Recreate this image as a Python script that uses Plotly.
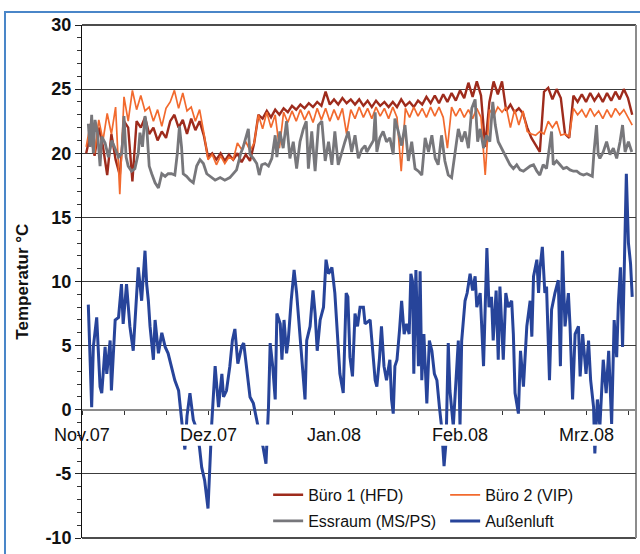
import plotly.graph_objects as go

# ---------------- data ----------------
# x = days since 1 Nov 2007
MONTH_LABELS = ["Nov.07", "Dez.07", "Jan.08", "Feb.08", "Mrz.08"]
MONTH_DAYS = [0, 30, 60, 90, 120]
Y_TICKS = [-10, -5, 0, 5, 10, 15, 20, 25, 30]
Y_TICK_LABELS = ["-10", "-5", "0", "5", "10", "15", "20", "25", "30"]

buero_days = list(range(1, 132))
buero1 = [20.0, 21.5, 19.8, 22.0, 20.5, 18.3, 21.5, 19.5, 18.3, 22.5,
          22.0, 17.8, 22.5, 22.0, 22.8, 21.5, 22.0, 21.0, 21.7, 21.2,
          22.5, 23.0, 22.0, 22.6, 21.5, 22.7, 21.8, 22.5, 21.4, 19.7,
          20.0, 19.5, 20.0, 19.4, 19.9, 19.5, 20.0, 19.3, 19.9, 19.4,
          20.8, 23.0, 22.7, 23.3, 22.8, 23.4, 23.0, 23.5, 23.2, 23.7,
          23.4, 23.8, 23.5, 23.9, 23.6, 24.0, 23.7, 24.8, 23.8, 24.2,
          23.8, 24.3, 23.9, 24.2, 23.8, 24.2, 23.7, 24.1, 23.6, 24.1,
          23.7, 24.0, 23.6, 24.0, 23.6, 24.2, 23.7, 24.0, 23.6, 24.1,
          23.8, 24.4, 23.9, 24.5, 23.9, 24.6, 24.0, 24.7, 24.1, 24.9,
          24.3, 25.5, 24.4, 25.6, 24.5, 20.5, 24.0, 25.6, 24.6, 25.6,
          23.3, 23.8, 23.2, 23.5, 23.1, 22.0, 21.2, 20.6, 20.1, 24.8,
          25.1, 24.2, 25.0, 24.3, 21.5, 21.2, 24.5, 24.0, 24.6, 24.0,
          24.7, 24.1, 24.6, 24.0, 24.7, 24.1, 24.8, 24.2, 25.0, 24.3,
          23.0]
buero2 = [20.5, 22.3, 20.0, 22.6, 21.0, 23.1, 21.5, 23.6, 16.8, 24.4,
          22.5, 24.9, 23.4, 24.5, 23.3, 23.6, 22.5, 23.4, 22.1, 23.5,
          24.0, 24.9, 23.5, 24.7, 23.3, 23.6, 22.5, 23.4, 21.6, 19.5,
          19.9, 19.1, 19.8, 19.2, 19.7, 19.5, 20.8, 20.3, 20.9, 20.2,
          20.8, 23.0, 21.9, 23.2, 22.0, 23.0, 20.4, 23.2, 22.4, 23.3,
          22.5, 23.4, 22.6, 23.3, 22.4, 23.5, 22.6, 23.5, 22.5, 23.4,
          22.6, 23.5, 21.5, 23.4, 22.7, 23.6, 22.8, 23.5, 22.7, 23.6,
          22.9, 23.5, 22.7, 23.6, 22.8, 18.6, 23.5, 22.8, 23.6, 22.9,
          23.5, 22.8, 23.6, 22.9, 23.6, 22.8, 20.4, 23.6, 22.9, 23.5,
          22.8, 23.4, 22.7, 23.5, 22.8, 18.3, 23.4, 22.9, 23.6, 23.2,
          23.6, 22.0, 23.4, 22.2, 23.3, 21.7, 21.5, 21.4, 21.7, 21.5,
          22.5, 22.0, 22.5, 21.4, 21.5, 21.3, 23.5, 23.0, 23.4, 22.8,
          23.5, 22.9, 23.3, 22.7, 23.4, 22.8, 23.5, 23.0, 23.4, 22.8,
          22.2]

ess_days = [1.5, 1.9, 2.3, 2.7, 3.1, 3.7, 4.3, 4.7, 5.5, 6.3, 7.1, 7.9, 8.7, 9.5, 10.0,
            10.5, 11.0, 11.8, 12.6, 13.4, 13.8, 14.4, 15.0, 15.4, 16.0, 16.6, 17.4, 18.2,
            19.0, 19.8, 20.5, 21.3, 22.1, 22.7, 23.2, 23.7, 24.1, 24.9, 25.7, 26.5, 27.3,
            28.1, 28.9, 29.7, 30.6, 31.7, 32.9, 34.0, 35.2, 36.0, 36.8, 37.5, 37.8, 38.3,
            38.8, 39.6, 40.0, 40.8, 41.6, 42.2, 42.8, 43.6, 44.4, 45.2, 46.0, 46.4, 47.1,
            47.9, 48.7, 49.5, 50.3, 51.1, 51.9, 52.7, 53.4, 53.9, 54.7, 55.5, 56.3, 57.1,
            57.9, 58.7, 59.5, 60.2, 61.0, 61.8, 62.6, 63.4, 64.2, 65.0, 65.8, 66.6, 67.4,
            67.8, 68.6, 69.4, 69.8, 70.2, 70.9, 71.7, 72.5, 73.3, 74.1, 74.5, 75.3, 76.1,
            76.9, 77.7, 78.5, 79.3, 80.1, 80.9, 81.7, 82.5, 83.3, 84.1, 84.8, 85.6, 86.4,
            87.2, 88.0, 88.8, 89.6, 90.4, 91.2, 92.0, 92.8, 93.6, 94.2, 94.8, 95.6, 96.3,
            97.1, 97.8, 98.4, 99.1, 99.9, 100.7, 101.1, 101.9, 102.7, 103.5, 104.3, 105.1,
            105.9, 106.7, 107.5, 108.3, 109.0, 109.8, 110.6, 111.4, 111.8, 112.2, 113.0,
            113.8, 114.6, 115.4, 116.2, 117.0, 117.8, 118.6, 119.4, 120.2, 121.0, 121.5,
            121.9, 122.5, 122.9, 123.3, 124.1, 124.9, 125.7, 126.5, 127.3, 128.1, 128.7,
            129.3, 130.1, 130.9]
essraum = [22.3, 20.5, 23.0, 20.0, 22.6, 21.6, 19.0, 21.3, 20.8, 19.7, 21.0, 20.3, 19.7, 20.0, 22.9,
           19.7, 19.0, 18.6, 18.8, 20.0, 21.6, 20.5, 22.9, 22.1, 19.0, 18.4, 17.7, 17.3,
           18.4, 18.2, 18.4, 18.4, 18.3, 20.0, 22.1, 20.5, 18.4, 18.2, 17.9, 17.7, 19.0,
           19.5, 19.2, 18.4, 18.2, 17.9, 18.1, 17.9, 18.1, 18.4, 18.7, 19.6, 20.0, 20.4,
           21.0, 21.9, 19.9, 19.6, 19.2, 18.3, 19.1, 19.2, 19.0, 19.6, 21.4, 19.7, 21.7,
           20.4, 22.5, 19.6, 20.9, 18.8, 20.9, 21.9, 22.5, 18.8, 21.7, 18.6, 22.2, 22.5,
           19.4, 20.9, 19.1, 21.7, 19.1, 20.1, 20.9, 21.7, 20.1, 21.4, 19.6, 20.3, 20.6,
           20.1, 20.5, 21.0, 23.2, 20.1, 21.2, 21.7, 20.9, 21.2, 19.9, 22.7, 21.7, 20.6,
           22.2, 19.4, 20.9, 18.8, 18.6, 18.3, 21.2, 20.1, 21.4, 19.6, 19.1, 21.4, 19.4,
           18.3, 18.1, 19.9, 21.9, 20.9, 21.7, 20.4, 23.5, 24.2, 20.9, 21.9, 20.4, 21.4,
           20.9, 24.0, 22.2, 20.9, 20.4, 19.9, 19.6, 19.1, 18.8, 19.1, 18.7, 18.6,
           18.8, 19.0, 19.1, 18.6, 18.3, 19.1, 18.8, 20.9, 21.7, 19.1, 19.4,
           19.1, 18.8, 18.9, 18.7, 18.6, 18.6, 18.4, 18.3, 18.4, 18.3, 18.2,
           20.1, 22.2, 19.9, 19.6, 20.1, 20.9, 19.9, 20.4, 19.6, 20.9, 22.2,
           20.1, 20.9, 20.1]

aussen_days = [1.5, 2.3, 2.7, 3.5, 4.3, 4.7, 5.5, 5.9, 6.7, 7.0, 7.9, 8.7, 9.4, 9.8, 10.6,
               11.4, 12.2, 12.6, 13.4, 14.2, 15.0, 15.4, 15.8, 16.2, 17.0, 17.4, 18.2, 19.0,
               19.8, 20.5, 21.3, 22.1, 23.0, 23.7, 24.1, 24.5, 25.0, 25.7, 26.5, 27.3, 28.0,
               28.5, 29.2, 30.0, 30.5, 30.9, 31.7, 32.5, 33.3, 33.7, 34.4, 35.2, 35.8, 36.4,
               37.1, 38.0, 38.5, 39.2, 40.0, 40.8, 41.6, 42.4, 43.1, 43.8, 44.4, 44.8, 45.4,
               46.0, 46.4, 47.2, 47.6, 48.1, 48.7, 49.1, 49.8, 50.5, 51.1, 52.0, 52.5, 53.1,
               53.5, 54.3, 55.0, 55.5, 56.0, 56.7, 57.5, 58.1, 58.7, 59.5, 60.2, 61.0, 61.4,
               62.2, 62.9, 63.3, 63.8, 64.4, 65.0, 65.6, 66.2, 67.0, 67.4, 68.6, 69.2, 69.8,
               70.2, 70.8, 71.3, 71.9, 72.5, 73.3, 73.7, 74.1, 74.5, 75.0, 75.6, 76.1, 76.7,
               77.3, 77.9, 78.3, 78.7, 79.0, 79.5, 80.1, 80.5, 80.9, 81.4, 82.1, 82.7, 83.3,
               83.9, 84.5, 85.1, 85.6, 86.2, 86.7, 87.2, 87.6, 88.4, 89.2, 89.6, 90.0, 90.4,
               91.2, 91.7, 92.4, 93.0, 93.6, 94.0, 94.8, 95.6, 96.0, 96.4, 96.9, 97.5, 97.9,
               98.6, 99.1, 99.5, 100.3, 100.9, 101.5, 102.3, 102.7, 103.1, 103.9, 104.4,
               105.1, 105.9, 106.7, 107.1, 107.5, 108.3, 108.7, 109.0, 109.6, 110.2, 110.6,
               111.3, 111.8, 112.6, 113.4, 113.9, 114.4, 115.0, 115.8, 116.2, 116.8, 117.4,
               118.2, 118.6, 119.2, 120.0, 120.6, 121.1, 121.8, 122.1, 122.7, 123.3, 124.1,
               124.8, 125.4, 126.1, 126.7, 127.3, 127.7, 128.2, 128.7, 129.1, 129.6, 130.1,
               130.6, 131.0]
aussen = [8.2, 0.2, 4.9, 7.2, 1.8, 1.3, 4.9, 2.8, 5.4, 1.5, 7.0, 7.2, 9.8, 6.7, 9.8,
          6.5, 4.6, 6.5, 11.1, 8.5, 12.4, 9.8, 8.5, 6.5, 3.9, 7.0, 4.4, 6.0,
          4.9, 4.4, 3.4, 2.3, 1.5, -1.1, -2.0, -3.1, -0.5, 1.3, -0.8, -1.5, -3.0,
          -4.5, -5.5, -7.7, -4.0, -1.0, 3.4, 0.2, 2.8, 1.0, 1.5, 3.4, 5.4, 6.3,
          3.6, 4.9, 5.2, 3.4, 1.0, 0.5, -0.8, -2.1, -2.9, -4.2, 0.2, 5.2, 3.4,
          0.8, 7.5, 6.7, 3.9, 7.0, 4.4, 5.4, 8.5, 10.9, 9.1, 5.4, 3.4, 0.8,
          5.4, 6.5, 9.3, 7.5, 4.6, 7.0, 8.0, 11.7, 10.6, 11.1, 9.1, 4.9, 2.8,
          1.3, 9.1, 8.8, 4.1, 2.6, 7.5, 6.5, 8.0, 8.0, 6.7, 7.0, 4.4, 2.3,
          1.8, 3.9, 6.5, 3.4, 2.3, 3.9, 0.8, -0.3, 3.4, 3.9, 6.2, 8.5, 5.9,
          6.7, 5.9, 10.6, 10.0, 2.8, 10.9, 3.4, 10.8, 2.3, 5.9, 0.5, 5.4, 4.6,
          2.8, 2.3, 0.2, -1.3, -4.4, -2.4, 5.2, 1.5, -1.3, 3.4, 5.4, -1.3, 5.4,
          8.5, 9.1, 10.6, 9.3, 10.4, 8.0, 9.1, 3.4, 8.0, 12.6, 8.0, 8.8, 5.4,
          9.3, 3.9, 9.6, 3.9, 9.1, 8.0, 8.5, 5.9, 1.3, -0.3, 4.6,
          1.8, 6.5, 8.5, 5.7, 10.4, 11.7, 9.1, 10.9, 12.7, 9.1, 9.6,
          2.3, 7.8, 9.1, 10.1, 3.4, 12.4, 6.5, 9.1, 6.5, 0.8, 5.9,
          6.5, 2.6, 5.9, 2.8, 5.4, 2.3, 0.2, -3.4, 0.8, -1.3, 3.9,
          1.3, 4.6, -1.1, 7.0, 4.1, 8.3, 11.1, 4.9, 11.7, 18.4, 13.0,
          11.4, 8.8]

SERIES_NAMES = ["Büro 1 (HFD)", "Büro 2 (VIP)", "Essraum (MS/PS)", "Außenluft"]
COLORS = ["#9E2B1C", "#F26A2E", "#77777B", "#27449A"]

# ---------------- figure ----------------
FONT = "Liberation Sans, Arial, sans-serif"
fig = go.Figure()

fig.add_trace(go.Scatter(x=buero_days, y=buero1, mode="lines", name=SERIES_NAMES[0],
                         line=dict(color=COLORS[0], width=2.4), legend="legend"))
fig.add_trace(go.Scatter(x=buero_days, y=buero2, mode="lines", name=SERIES_NAMES[1],
                         line=dict(color=COLORS[1], width=1.7), legend="legend"))
fig.add_trace(go.Scatter(x=ess_days, y=essraum, mode="lines", name=SERIES_NAMES[2],
                         line=dict(color=COLORS[2], width=2.8), legend="legend2"))
fig.add_trace(go.Scatter(x=aussen_days, y=aussen, mode="lines", name=SERIES_NAMES[3],
                         line=dict(color=COLORS[3], width=3), legend="legend2"))

# month labels sit in a white band just under the zero line
for d, lab in zip(MONTH_DAYS, MONTH_LABELS):
    fig.add_annotation(x=d, y=-1.97, xref="x", yref="y", text=lab, showarrow=False,
                       xanchor="center", yanchor="middle",
                       font=dict(family=FONT, size=18, color="#111111"))

fig.add_annotation(x=-0.108, y=0.5, xref="paper", yref="paper", text="<b>Temperatur °C</b>",
                   textangle=-90, showarrow=False, xanchor="center", yanchor="middle",
                   font=dict(family=FONT, size=17, color="#111111"))

shapes = [
    # white band behind month labels (covers the curve there)
    dict(type="rect", xref="x domain", yref="y", x0=0.003, x1=0.997, y0=-2.8, y1=-1.15,
         fillcolor="white", line=dict(width=0), layer="above"),
    # plot frame
    dict(type="line", xref="paper", yref="paper", x0=0, x1=1, y0=1, y1=1,
         line=dict(color="#111111", width=1.5), layer="below"),
    dict(type="line", xref="paper", yref="paper", x0=0, x1=1, y0=0, y1=0,
         line=dict(color="#111111", width=1.5), layer="below"),
    dict(type="line", xref="paper", yref="paper", x0=1, x1=1, y0=0, y1=1,
         line=dict(color="#8c8c8c", width=2), layer="below"),
    # outer blue chart border
    dict(type="rect", xref="paper", yref="paper", x0=-0.139, x1=1.1, y0=-0.1, y1=1.0253,
         line=dict(color="#4a86c8", width=2), fillcolor="rgba(0,0,0,0)", layer="below"),
]

fig.update_layout(
    width=640, height=554,
    margin=dict(l=82, r=4, t=25, b=16),
    paper_bgcolor="white", plot_bgcolor="white",
    font=dict(family=FONT, color="#111111"),
    shapes=shapes,
    showlegend=True,
    legend=dict(orientation="h", x=0.336, y=0.084, xanchor="left", yanchor="middle",
                entrywidth=132, bgcolor="rgba(0,0,0,0)",
                font=dict(family=FONT, size=16, color="#111111")),
    legend2=dict(orientation="h", x=0.336, y=0.0331, xanchor="left", yanchor="middle",
                 entrywidth=132, bgcolor="rgba(0,0,0,0)",
                 font=dict(family=FONT, size=16, color="#111111")),
    xaxis=dict(range=[0, 131.9], anchor="free", position=0.25, showline=True,
               linecolor="#8a8a8a", linewidth=2, ticks="outside", ticklen=4,
               tickcolor="#333333", tickvals=list(range(0, 140, 10)),
               showticklabels=False, showgrid=False, zeroline=False,
               layer="below traces"),
    yaxis=dict(range=[-10, 30], tickvals=Y_TICKS, ticktext=Y_TICK_LABELS,
               ticks="outside", ticklen=6,
               tickcolor="#222222", showline=True, linecolor="#111111", linewidth=1,
               showgrid=True, gridcolor="#3c3c3c", gridwidth=1, zeroline=False,
               tickfont=dict(family=FONT, size=18, color="#111111", weight="bold"),
               minor=dict(dtick=1, ticks="outside", ticklen=4, tickcolor="#333333",
                          showgrid=False),
               layer="below traces"),
)

fig.write_html("out.html", config={"displayModeBar": False},
               post_script="document.body.style.margin='0px';document.body.style.overflow='hidden';")
